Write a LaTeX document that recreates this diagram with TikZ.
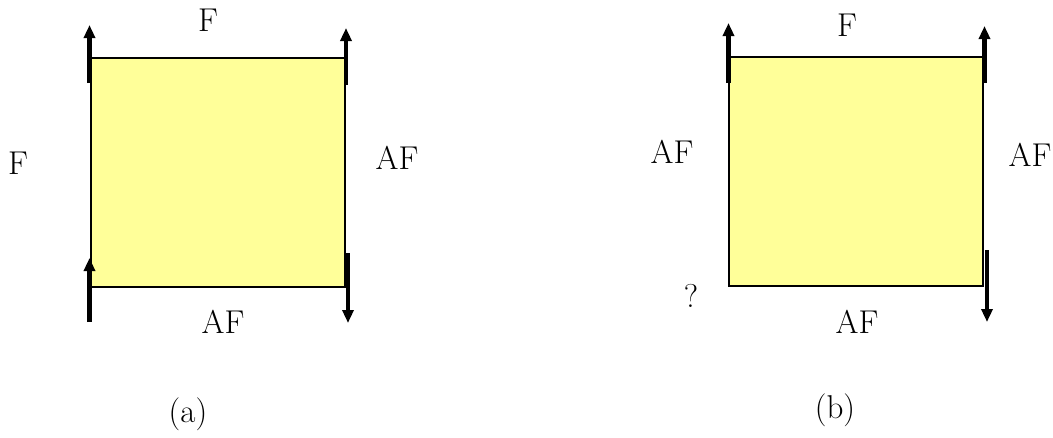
\documentclass[tikz,border=0pt]{standalone}
\usepackage{fontspec}
\usetikzlibrary{arrows.meta}
\definecolor{sqfill}{RGB}{255,255,153}
\begin{document}
\begin{tikzpicture}[x=1pt,y=-1pt,
  sq/.style={draw=black,line width=1.8pt,fill=sqfill,minimum width=254pt,minimum height=229pt,inner sep=0pt,outer sep=0pt},
  force/.style={line width=4.5pt,-{Triangle[length=13pt,width=11pt]}},
  lab/.style={font=\fontsize{33}{40}\selectfont,inner sep=0pt}]
\useasboundingbox (0,0) rectangle (1053,437);
% (a)
\node[sq] (A) at (218,172.5) {};
\coordinate (a1s) at (89.5,83); \coordinate (a1e) at (89.5,25);
\coordinate (a2s) at (346,85); \coordinate (a2e) at (346,28);
\coordinate (a3s) at (89.5,322); \coordinate (a3e) at (89.5,258);
\coordinate (a4s) at (348,253); \coordinate (a4e) at (348,323);
\draw[force] (a1s) -- (a1e);
\draw[force] (a2s) -- (a2e);
\draw[force] (a3s) -- (a3e);
\draw[force] (a4s) -- (a4e);
\node[lab] (aT) at (208,20) {F};
\node[lab] (aL) at (18,163) {F};
\node[lab] (aR) at (397,158) {AF};
\node[lab] (aB) at (223,322) {AF};
\node[lab] (acap) at (188,414) {(a)};
% (b)
\node[sq] (B) at (856,171.5) {};
\coordinate (b1s) at (728.5,83); \coordinate (b1e) at (728.5,23);
\coordinate (b2s) at (984.5,83); \coordinate (b2e) at (984.5,26);
\coordinate (b4s) at (987,250); \coordinate (b4e) at (987,322);
\draw[force] (b1s) -- (b1e);
\draw[force] (b2s) -- (b2e);
\draw[force] (b4s) -- (b4e);
\node[lab] (bT) at (847,25) {F};
\node[lab] (bL) at (672,152) {AF};
\node[lab] (bR) at (1030,155) {AF};
\node[lab] (bQ) at (691,296) {?};
\node[lab] (bB) at (857,322) {AF};
\node[lab] (bcap) at (835,410) {(b)};
\end{tikzpicture}
\end{document}
